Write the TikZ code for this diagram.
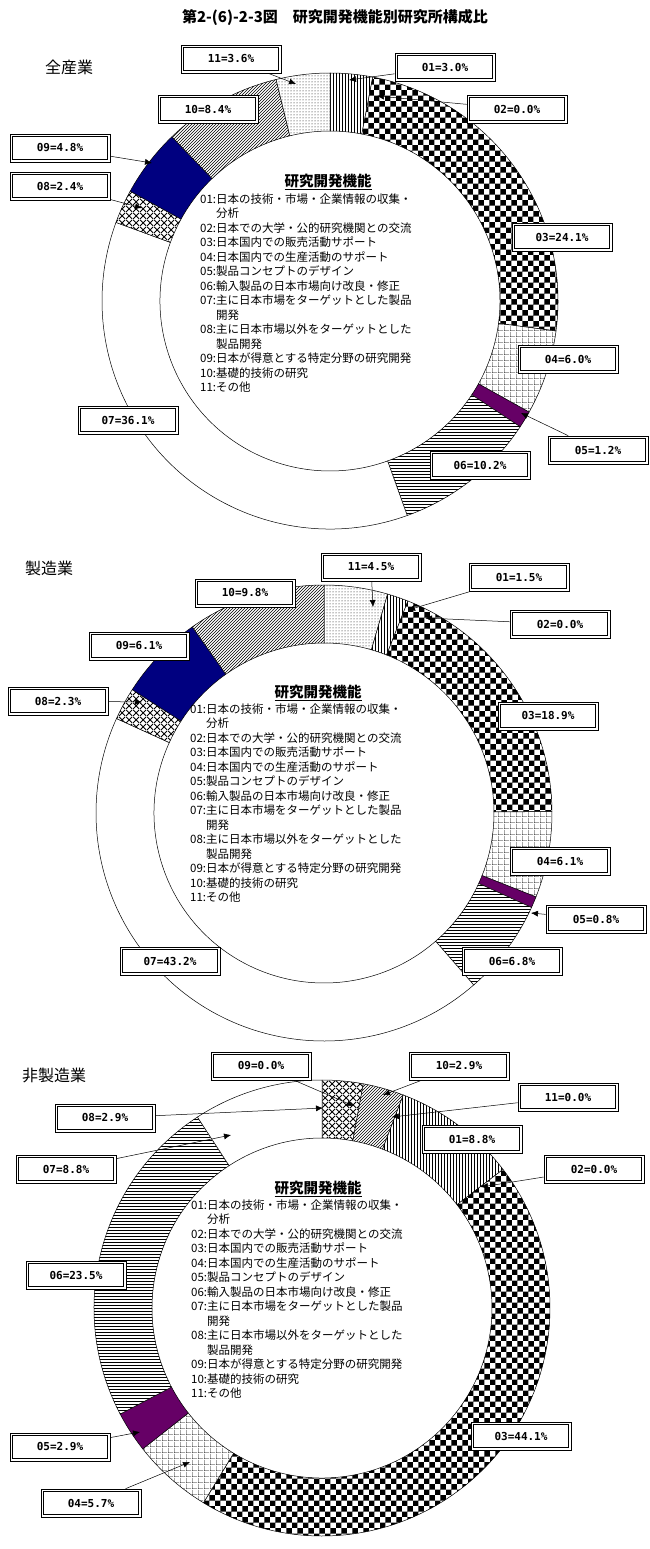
\documentclass[tikz,border=0pt]{standalone}
\usepackage{fontspec}
\setmainfont{Noto Sans CJK JP}
\newfontfamily\lblfont{DejaVu Sans Mono}
\usetikzlibrary{arrows.meta,patterns,patterns.meta}
\tikzset{>={Latex[length=7pt,width=6pt]}}
\definecolor{navyseg}{RGB}{0,0,128}
\definecolor{plumseg}{RGB}{102,0,102}
\tikzdeclarepattern{name=widegrid,type=uncolored,
  bounding box={(0pt,0pt) and (6pt,6pt)},tile size={(6pt,6pt)},
  code={\draw[line width=0.9pt] (0pt,0pt) -- (6pt,0pt) (0pt,0pt) -- (0pt,6pt);}}
\tikzdeclarepattern{name=widecross,type=uncolored,
  bounding box={(0pt,0pt) and (7pt,7pt)},tile size={(7pt,7pt)},
  code={\draw[line width=0.9pt] (0pt,0pt) -- (7pt,7pt) (0pt,7pt) -- (7pt,0pt);}}
\tikzset{
  seg/.style={draw=black,line width=0.5pt,preaction={fill=white}},
  s01/.style={pattern=vertical lines},
  s03/.style={pattern=checkerboard},
  s04/.style={pattern=widegrid},
  s05/.style={fill=plumseg},
  s06/.style={pattern=horizontal lines},
  s07/.style={fill=white},
  s08/.style={pattern=widecross},
  s09/.style={fill=navyseg},
  s10/.style={pattern=north east lines},
  s11/.style={pattern=dots},
  lbl/.style={draw,line width=0.6pt,fill=white,
    minimum width=100pt,minimum height=28pt,inner sep=0pt,
    font=\lblfont\bfseries\fontsize{11}{11}\selectfont,
    path picture={\draw[line width=1.1pt]
      ([shift={(2.5pt,-2.5pt)}]path picture bounding box.north west) rectangle
      ([shift={(-2.5pt,2.5pt)}]path picture bounding box.south east);}},
  legtitle/.style={font=\bfseries\fontsize{14.5}{16}\selectfont},
  legbody/.style={anchor=north west,inner sep=0pt,font=\fontsize{11.5}{14.5}\selectfont},
  sect/.style={font=\fontsize{16}{18}\selectfont},
  pt/.style={line width=0.5pt}
}
\newcommand\legendtext{%
  \begin{tabular}{@{}l@{}l@{}}
  01: & 日本の技術・市場・企業情報の収集・\\
      & 分析\\
  02: & 日本での大学・公的研究機関との交流\\
  03: & 日本国内での販売活動サポート\\
  04: & 日本国内での生産活動のサポート\\
  05: & 製品コンセプトのデザイン\\
  06: & 輸入製品の日本市場向け改良・修正\\
  07: & 主に日本市場をターゲットとした製品\\
      & 開発\\
  08: & 主に日本市場以外をターゲットとした\\
      & 製品開発\\
  09: & 日本が得意とする特定分野の研究開発\\
  10: & 基礎的技術の研究\\
  11: & その他
  \end{tabular}}
\newcommand\ring[1]{%
  \foreach \a/\b/\st in {#1}
    \draw[seg,\st] ({90-3.6*\a}:228) arc[start angle={90-3.6*\a},end angle={90-3.6*\b},radius=228]
      -- ({90-3.6*\b}:170) arc[start angle={90-3.6*\b},end angle={90-3.6*\a},radius=170] -- cycle;}

\begin{document}
\begin{tikzpicture}[x=1pt,y=-1pt]
  \fill[white] (0,0) rectangle (650,1549);
  \useasboundingbox (0,0) rectangle (650,1549);
  \node[font=\bfseries\fontsize{15}{17}\selectfont] (title) at (335,18) {第2-(6)-2-3図\quad 研究開発機能別研究所構成比};
  % All industries
  \node[sect] (sec1) at (69,67) {全産業};
  \begin{scope}[shift={(330,301)},yscale=-1]
    \ring{0/3.0/s01,3.0/27.1/s03,27.1/33.1/s04,33.1/34.3/s05,34.3/44.5/s06,44.5/80.6/s07,
      80.6/83.0/s08,83.0/87.8/s09,87.8/96.2/s10,96.2/100/s11}
  \end{scope}
  \node[legtitle] (lt1) at (328,182) {\underline{研究開発機能}};
  \node[legbody] (lg1) at (200,193) {\legendtext};
  \node[lbl] (a11) at (231,59) {11=3.6\%};
  \node[lbl] (a01) at (445,67) {01=3.0\%};
  \node[lbl] (a02) at (517,109) {02=0.0\%};
  \node[lbl] (a10) at (208,109) {10=8.4\%};
  \node[lbl] (a09) at (60,148) {09=4.8\%};
  \node[lbl] (a08) at (60,186) {08=2.4\%};
  \node[lbl] (a03) at (562,237) {03=24.1\%};
  \node[lbl] (a04) at (568,359) {04=6.0\%};
  \node[lbl] (a05) at (598,450) {05=1.2\%};
  \node[lbl] (a06) at (480,465) {06=10.2\%};
  \node[lbl] (a07) at (128,420) {07=36.1\%};
  \coordinate (p11) at (296,84);
  \coordinate (p01) at (349,80);
  \coordinate (p02) at (377,96);
  \coordinate (p09) at (152,163);
  \coordinate (p08) at (142,208);
  \coordinate (p05) at (521,413);
  \foreach \n in {11,01,02,09,08,05}
    \draw[pt,->] (a\n) -- (p\n);
  % Manufacturing
  \node[sect] (sec2) at (49,568) {製造業};
  \begin{scope}[shift={(324,813)},yscale=-1]
    \ring{0/4.5/s11,4.5/6.0/s01,6.0/24.9/s03,24.9/31.0/s04,31.0/31.8/s05,31.8/38.6/s06,
      38.6/81.8/s07,81.8/84.1/s08,84.1/90.2/s09,90.2/100/s10}
  \end{scope}
  \node[legtitle] (lt2) at (318,693) {\underline{研究開発機能}};
  \node[legbody] (lg2) at (190,703) {\legendtext};
  \node[lbl] (b11) at (371,567) {11=4.5\%};
  \node[lbl] (b01) at (519,577) {01=1.5\%};
  \node[lbl] (b02) at (560,624) {02=0.0\%};
  \node[lbl] (b10) at (245,593) {10=9.8\%};
  \node[lbl] (b09) at (139,646) {09=6.1\%};
  \node[lbl] (b08) at (58,701) {08=2.3\%};
  \node[lbl] (b03) at (548,716) {03=18.9\%};
  \node[lbl] (b04) at (560,861) {04=6.1\%};
  \node[lbl] (b05) at (596,919) {05=0.8\%};
  \node[lbl] (b06) at (512,961) {06=6.8\%};
  \node[lbl] (b07) at (170,961) {07=43.2\%};
  \coordinate (q11) at (373,607);
  \coordinate (q01) at (408,610);
  \coordinate (q02) at (425,618);
  \coordinate (q08) at (142,702);
  \coordinate (q05) at (531,913);
  \foreach \n in {11,01,02,08,05}
    \draw[pt,->] (b\n) -- (q\n);
  % Non-manufacturing
  \node[sect] (sec3) at (54,1075) {非製造業};
  \begin{scope}[shift={(322,1308)},yscale=-1]
    \ring{0/2.9/s08,2.9/5.8/s10,5.8/14.6/s01,14.6/58.7/s03,58.7/64.4/s04,64.4/67.3/s05,
      67.3/90.8/s06,90.8/100/s07}
  \end{scope}
  \node[legtitle] (lt3) at (318,1189) {\underline{研究開発機能}};
  \node[legbody] (lg3) at (191,1199) {\legendtext};
  \node[lbl] (c09) at (261,1066) {09=0.0\%};
  \node[lbl] (c10) at (459,1066) {10=2.9\%};
  \node[lbl] (c11) at (568,1097) {11=0.0\%};
  \node[lbl] (c01) at (472,1139) {01=8.8\%};
  \node[lbl] (c02) at (594,1169) {02=0.0\%};
  \node[lbl] (c08) at (105,1118) {08=2.9\%};
  \node[lbl] (c07) at (66,1169) {07=8.8\%};
  \node[lbl] (c06) at (76,1275) {06=23.5\%};
  \node[lbl] (c05) at (60,1447) {05=2.9\%};
  \node[lbl] (c04) at (91,1503) {04=5.7\%};
  \node[lbl] (c03) at (521,1436) {03=44.1\%};
  \coordinate (r09) at (354,1106);
  \coordinate (r10) at (383,1095);
  \coordinate (r11) at (392,1117);
  \coordinate (r02) at (481,1187);
  \coordinate (r08) at (323,1108);
  \coordinate (r07) at (231,1135);
  \coordinate (r05) at (140,1432);
  \coordinate (r04) at (190,1462);
  \foreach \n in {09,10,11,02,08,07,05,04}
    \draw[pt,->] (c\n) -- (r\n);
\end{tikzpicture}
\end{document}
